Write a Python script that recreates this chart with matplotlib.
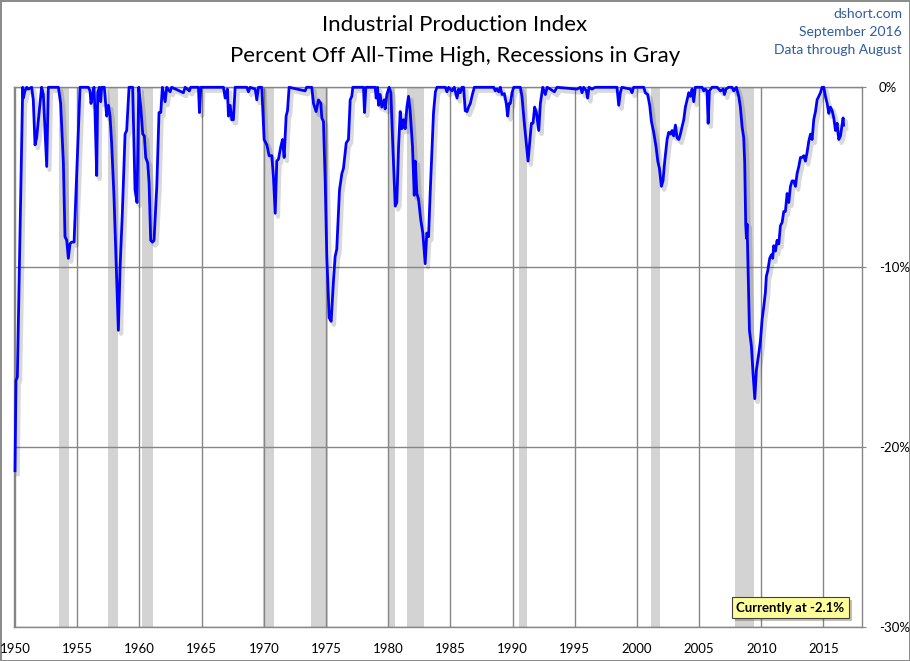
import matplotlib
matplotlib.use("Agg")
import matplotlib.pyplot as plt
import matplotlib.patheffects as pe

plt.rcParams['font.family'] = ['Lato', 'DejaVu Sans']

# ---- data (year fraction, percent off all-time high) ----
dates = [
    1950.0, 1950.08, 1950.19, 1950.35, 1950.48, 1950.62, 1950.67, 1950.8, 1950.94, 1951.07,
    1951.34, 1951.47, 1951.61, 1951.74, 1951.88, 1952.14, 1952.28, 1952.55, 1952.68, 1953.49,
    1953.57, 1953.67, 1953.89, 1954.02, 1954.16, 1954.29, 1954.42, 1954.56, 1954.75, 1954.91,
    1955.09, 1955.23, 1955.9, 1956.03, 1956.11, 1956.25, 1956.35, 1956.43, 1956.57, 1956.65,
    1956.78, 1956.89, 1956.97, 1957.18, 1957.37, 1957.51, 1957.64, 1957.77, 1957.96, 1958.18,
    1958.31, 1958.45, 1958.63, 1958.85, 1958.98, 1959.17, 1959.46, 1959.65, 1959.81, 1959.95,
    1960.11, 1960.27, 1960.4, 1960.51, 1960.67, 1960.78, 1960.91, 1961.05, 1961.18, 1961.4,
    1961.58, 1961.72, 1961.85, 1962.07, 1962.2, 1962.47, 1962.6, 1963.54, 1963.68, 1964.02,
    1964.13, 1964.75, 1964.83, 1964.94, 1966.76, 1966.9, 1967.08, 1967.16, 1967.3, 1967.43,
    1967.56, 1967.7, 1968.64, 1968.77, 1968.9, 1969.31, 1969.44, 1969.58, 1969.84, 1970.03,
    1970.25, 1970.43, 1970.65, 1970.78, 1970.92, 1971.05, 1971.18, 1971.37, 1971.51, 1971.64,
    1971.8, 1971.91, 1972.04, 1973.33, 1973.45, 1973.86, 1974.0, 1974.21, 1974.4, 1974.59,
    1974.67, 1974.8, 1974.94, 1975.07, 1975.26, 1975.42, 1975.61, 1975.74, 1975.87, 1976.09,
    1976.28, 1976.41, 1976.63, 1976.81, 1976.95, 1977.08, 1977.16, 1978.02, 1978.1, 1978.21,
    1978.96, 1979.04, 1979.15, 1979.23, 1979.36, 1979.49, 1979.68, 1979.76, 1979.9, 1980.08,
    1980.22, 1980.38, 1980.57, 1980.7, 1980.84, 1980.97, 1981.1, 1981.24, 1981.37, 1981.51,
    1981.64, 1981.77, 1981.96, 1982.1, 1982.18, 1982.31, 1982.44, 1982.63, 1982.79, 1982.98,
    1983.11, 1983.25, 1983.38, 1983.65, 1983.8, 1983.93, 1984.6, 1984.73, 1984.86, 1985.13,
    1985.32, 1985.54, 1985.67, 1985.8, 1985.94, 1986.07, 1986.2, 1986.34, 1986.47, 1986.61,
    1986.74, 1986.93, 1988.49, 1988.62, 1988.75, 1988.89, 1989.02, 1989.16, 1989.34, 1989.5,
    1989.61, 1989.72, 1989.83, 1989.96, 1990.1, 1990.63, 1990.76, 1990.95, 1991.11, 1991.25,
    1991.38, 1991.52, 1991.65, 1991.78, 1991.92, 1992.11, 1992.24, 1992.43, 1992.64, 1992.78,
    1993.04, 1993.37, 1993.58, 1995.19, 1995.46, 1995.59, 1995.72, 1995.94, 1996.04, 1996.15,
    1996.39, 1996.66, 1998.4, 1998.54, 1998.67, 1998.8, 1999.48, 1999.61, 1999.74, 2000.55,
    2000.68, 2000.87, 2001.03, 2001.17, 2001.35, 2001.54, 2001.68, 2001.81, 2001.97, 2002.1,
    2002.24, 2002.43, 2002.56, 2002.7, 2002.83, 2002.96, 2003.1, 2003.23, 2003.37, 2003.5,
    2003.63, 2003.77, 2003.9, 2004.04, 2004.17, 2004.3, 2004.44, 2004.57, 2004.7, 2005.24,
    2005.38, 2005.51, 2005.64, 2005.73, 2005.83, 2006.05, 2006.45, 2006.72, 2006.94, 2007.04,
    2007.17, 2007.38, 2007.65, 2007.79, 2008.0, 2008.19, 2008.32, 2008.46, 2008.59, 2008.67,
    2008.75, 2008.81, 2008.86, 2008.94, 2009.05, 2009.21, 2009.34, 2009.48, 2009.61, 2009.8,
    2009.93, 2010.07, 2010.2, 2010.33, 2010.41, 2010.52, 2010.68, 2010.82, 2010.92, 2011.0,
    2011.14, 2011.27, 2011.41, 2011.54, 2011.68, 2011.81, 2011.94, 2012.08, 2012.21, 2012.35,
    2012.48, 2012.61, 2012.75, 2012.88, 2013.02, 2013.15, 2013.28, 2013.42, 2013.55, 2013.69,
    2013.82, 2013.96, 2014.09, 2014.22, 2014.36, 2014.49, 2014.63, 2014.76, 2014.89, 2015.03,
    2015.16, 2015.3, 2015.43, 2015.56, 2015.7, 2015.83, 2015.97, 2016.1, 2016.23, 2016.37,
    2016.5, 2016.58, 2016.62,
]
pct_off_high = [
    -21.3, -16.3, -16.1, -10.0, -5.2, 0.0, -0.6, -0.2, 0.0, -0.1,
    0.0, -0.7, -3.2, -2.8, -1.8, 0.0, -0.4, -4.4, 0.0, 0.0,
    -0.4, -0.9, -4.2, -8.3, -8.5, -9.5, -8.7, -8.6, -8.6, -5.7,
    -2.4, 0.0, 0.0, -0.2, -0.9, -0.4, 0.0, -1.3, -4.9, -0.3,
    0.0, -0.8, 0.0, 0.0, -1.6, -1.0, -1.6, -3.1, -6.1, -10.7,
    -13.5, -10.0, -7.0, -2.6, -2.4, 0.0, 0.0, -5.7, -6.4, 0.0,
    -1.1, -2.6, -2.7, -3.9, -4.2, -5.3, -8.5, -8.6, -8.5, -5.5,
    -1.4, -1.4, 0.0, -0.8, 0.0, -0.25, 0.0, -0.3, 0.0, -0.2,
    0.0, 0.0, -1.4, 0.0, 0.0, -0.6, -0.1, -1.6, -1.0, -1.8,
    -1.8, 0.0, 0.0, -0.25, 0.0, -0.1, -0.7, 0.0, 0.0, -2.9,
    -3.2, -3.8, -3.8, -5.0, -7.0, -4.1, -4.0, -3.3, -2.9, -3.9,
    -1.6, -1.3, 0.0, -0.2, 0.0, 0.0, -0.9, -1.35, -0.7, -0.9,
    -1.7, -1.9, -5.2, -9.4, -12.8, -13.0, -10.7, -9.4, -9.0, -5.7,
    -4.8, -4.5, -3.1, -2.9, -0.7, -0.5, 0.0, 0.0, -1.4, 0.0,
    0.0, -0.6, 0.0, -1.0, -0.4, -1.1, -0.7, -1.2, -0.4, 0.0,
    -0.3, -3.3, -6.6, -6.4, -3.3, -1.35, -2.3, -1.8, -2.3, -1.1,
    -0.5, -1.3, -3.3, -6.0, -4.1, -5.9, -6.2, -7.4, -8.1, -9.8,
    -8.1, -8.3, -5.9, -1.4, -0.25, 0.0, 0.0, -0.25, 0.0, -0.2,
    0.0, -0.6, -0.1, -0.3, 0.0, 0.0, -1.3, -1.35, -1.1, -0.9,
    -0.5, 0.0, 0.0, -0.2, -0.1, -0.25, 0.0, -0.4, -0.35, -0.9,
    -1.6, -0.9, -0.9, -0.3, 0.0, 0.0, -0.5, -2.0, -3.1, -4.1,
    -3.1, -2.0, -2.0, -1.1, -1.4, -2.4, -0.9, 0.0, -0.4, 0.0,
    -0.1, -0.25, 0.0, -0.1, 0.0, -0.3, 0.0, -0.2, -0.6, 0.0,
    -0.1, 0.0, 0.0, -1.0, -0.3, 0.0, -0.1, -0.3, 0.0, 0.0,
    -0.3, -0.4, -1.0, -1.9, -2.5, -3.3, -4.1, -4.5, -5.5, -5.2,
    -4.1, -2.9, -2.5, -2.6, -2.4, -2.7, -2.1, -2.8, -2.9, -2.6,
    -2.2, -1.8, -1.1, -0.7, -0.3, -0.5, -0.1, -0.8, 0.0, 0.0,
    -0.2, -0.1, -0.2, -2.0, -0.2, 0.0, 0.0, -0.2, -0.1, -0.4,
    -0.1, 0.0, 0.0, -0.2, 0.0, -0.5, -1.1, -2.2, -2.8, -4.2,
    -7.6, -8.4, -7.6, -10.0, -13.5, -14.4, -15.9, -17.3, -15.7, -14.8,
    -14.1, -12.9, -12.2, -11.4, -10.5, -10.2, -9.5, -9.3, -9.5, -8.8,
    -9.1, -8.5, -8.7, -7.7, -7.5, -6.9, -6.9, -5.9, -6.4, -5.5,
    -5.2, -5.2, -5.5, -4.8, -4.4, -3.9, -3.9, -3.8, -4.1, -3.6,
    -3.0, -2.6, -2.9, -1.8, -1.35, -0.7, -0.5, -0.3, 0.0, 0.0,
    -0.5, -0.9, -1.45, -1.1, -1.3, -1.7, -2.4, -2.0, -2.9, -2.7,
    -2.1, -1.7, -2.1,
]

recession_starts = [1953.5, 1957.5, 1960.25, 1969.95, 1973.83, 1980.0, 1981.5, 1990.5, 2001.17, 2007.92]
recession_ends = [1954.35, 1958.25, 1961.1, 1970.85, 1975.15, 1980.55, 1982.88, 1991.17, 2001.88, 2009.45]

x_ticks = list(range(1950, 2016, 5))
y_ticks = [0, -10, -20, -30]
y_tick_labels = ["0%", "-10%", "-20%", "-30%"]

title_lines = "Industrial Production Index\nPercent Off All-Time High, Recessions in Gray"
source_lines = ["dshort.com", "September 2016", "Data through August"]

# ---- figure ----
W, H = 910, 661
fig = plt.figure(figsize=(W / 100, H / 100), dpi=100)
fig.patch.set_facecolor("white")
fig.patch.set_edgecolor("#8c8c8c")
fig.patch.set_linewidth(2)

left, right, top, bottom = 14 / W, 862 / W, 1 - 87.3 / H, 1 - 627.3 / H
ax = fig.add_axes([left, bottom, right - left, top - bottom])

grid_c = "#868686"
for s, e in zip(recession_starts, recession_ends):
    ax.axvspan(s, e, color="#d3d3d3", lw=0, zorder=1)

for xt in x_ticks:
    ax.axvline(xt, color=grid_c, lw=1, zorder=2)
for yt in y_ticks:
    ax.axhline(yt, color=grid_c, lw=1, zorder=2)

ax.plot(dates, pct_off_high, color="#0000ff", lw=2.0, zorder=4, clip_on=False,
        solid_joinstyle="round",
        path_effects=[pe.SimpleLineShadow(offset=(2, -2.5), shadow_color="black", alpha=0.15, linewidth=3),
                      pe.Normal()])

ax.set_xlim(1949.92, 2018.1)
ax.set_ylim(-30, 0)
for sp in ax.spines.values():
    sp.set_color(grid_c)
    sp.set_linewidth(1)

ax.set_xticks(x_ticks)
ax.set_xticklabels([str(x) for x in x_ticks], fontsize=9.5)
ax.tick_params(axis="x", length=0, pad=11, colors="black")
ax.yaxis.tick_right()
ax.set_yticks(y_ticks)
ax.set_yticklabels(y_tick_labels, fontsize=9.5)
ax.tick_params(axis="y", length=3, pad=9, color=grid_c, labelcolor="black")

# annotation with current value
ann = ax.text(0.9157, 0.036, f"Currently at {pct_off_high[-1]:.1f}%", transform=ax.transAxes,
              ha="center", va="center", fontsize=9.5, fontweight="bold", color="black", zorder=6,
              bbox=dict(boxstyle="square,pad=0.35", facecolor="#ffff99", edgecolor="#404040", lw=0.8))
ann.get_bbox_patch().set_path_effects([pe.withSimplePatchShadow(offset=(2, -2), alpha=0.35)])

fig.text(0.5, 1 - 40.5 / H, title_lines, ha="center", va="center", fontsize=16,
         linespacing=1.7, color="black")
for i, t in enumerate(source_lines):
    fig.text(902 / W, 1 - (14 + i * 18) / H, t, ha="right", va="center", fontsize=10,
             color="#2e5c9a")

fig.savefig("out.png", dpi=100, facecolor=fig.get_facecolor(), edgecolor=fig.get_edgecolor())
